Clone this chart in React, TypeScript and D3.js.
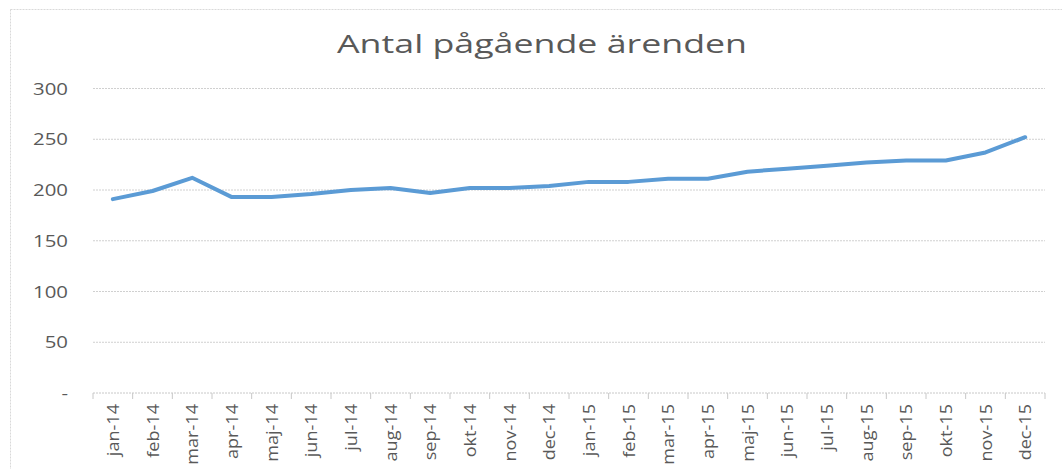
import React from 'react';
import { scaleBand, scaleLinear, line } from 'd3';

const months = [
  'jan-14', 'feb-14', 'mar-14', 'apr-14', 'maj-14', 'jun-14',
  'jul-14', 'aug-14', 'sep-14', 'okt-14', 'nov-14', 'dec-14',
  'jan-15', 'feb-15', 'mar-15', 'apr-15', 'maj-15', 'jun-15',
  'jul-15', 'aug-15', 'sep-15', 'okt-15', 'nov-15', 'dec-15',
];
const pending = [
  191, 199, 212, 193, 193, 196, 200, 202, 197, 202, 202, 204,
  208, 208, 211, 211, 218, 221, 224, 227, 229, 229, 237, 252,
];
const yTicks = [0, 50, 100, 150, 200, 250, 300];
const title = 'Antal pågående ärenden';

const W = 1062;
const H = 469;
const left = 93;
const right = 1045;
const top = 88.5;
const bottom = 393;
const grey = '#595959';
const font = '"Open Sans", "DejaVu Sans", sans-serif';

function App() {
  const x = scaleBand<string>().domain(months).range([left, right]);
  const y = scaleLinear().domain([0, 300]).range([bottom, top]);

  const path = line<number>()
    .x((d, i) => (x(months[i]) ?? 0) + x.bandwidth() / 2)
    .y(d => y(d));

  const tickXs = months.map(m => x(m) ?? 0).concat([right]);

  return (
    <svg width={W} height={H} style={{ position: 'absolute', left: 0, top: 0, background: '#fff' }}>
      {/* chart frame */}
      <rect x={10.5} y={9.5} width={W} height={H} fill="#fff" stroke="#d9d9d9" strokeDasharray="2,1" />

      <text x={542} y={53} textAnchor="middle" fill={grey} fontFamily={font} fontSize={26}
        textLength={410} lengthAdjust="spacingAndGlyphs">{title}</text>

      {/* gridlines */}
      {yTicks.filter(t => t > 0).map(t => (
        <line key={t} x1={left} x2={right} y1={y(t)} y2={y(t)} stroke="#d0d0d0" strokeDasharray="2,1" />
      ))}

      {/* y labels */}
      {yTicks.map(t => (
        <text key={'l' + t} transform={`translate(68,${y(t) + 6}) scale(1.2,1)`} textAnchor="end"
          fill={grey} fontFamily={font} fontSize={17}>{t === 0 ? '-' : t}</text>
      ))}

      {/* x axis */}
      <line x1={left} x2={right} y1={bottom} y2={bottom} stroke="#c8c8c8" strokeDasharray="2,1" />
      {tickXs.map((tx, i) => (
        <line key={'t' + i} x1={tx} x2={tx} y1={bottom} y2={bottom + 6} stroke="#c8c8c8" />
      ))}
      {months.map(m => {
        const cx = (x(m) ?? 0) + x.bandwidth() / 2 + 6;
        return (
          <text key={m} transform={`translate(${cx},404) rotate(-90) scale(1.13,1)`} textAnchor="end"
            fill={grey} fontFamily={font} fontSize={16}>{m}</text>
        );
      })}

      <path d={path(pending) ?? ''} fill="none" stroke="#5b9bd5" strokeWidth={4}
        strokeLinejoin="round" strokeLinecap="round" />
    </svg>
  );
}

export default App;
